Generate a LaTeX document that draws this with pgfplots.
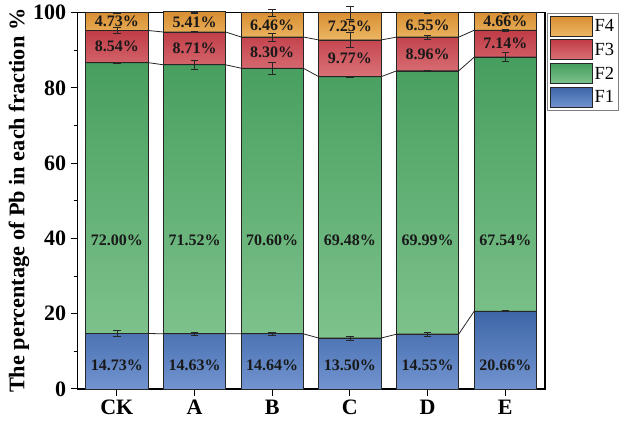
\documentclass[border=0pt]{standalone}
\usepackage{pgfplots}
\pgfplotsset{compat=1.18}
\usepackage{fontspec}
\setmainfont{Liberation Serif}
\definecolor{ftop}{RGB}{216,142,50}\definecolor{fbot}{RGB}{236,182,98}
\definecolor{rtop}{RGB}{192,60,70}\definecolor{rbot}{RGB}{218,114,120}
\definecolor{gtop}{RGB}{70,158,94}\definecolor{gbot}{RGB}{126,194,140}
\definecolor{btop}{RGB}{62,102,168}\definecolor{bbot}{RGB}{114,148,208}
\pgfplotsset{base/.style={width=467pt,height=376pt,scale only axis,
  xmin=-0.503,xmax=5.51,ymin=0,ymax=100,clip=false}}
\begin{document}
\begin{tikzpicture}
\begin{axis}[base, ybar stacked, bar width=0.8,
  xtick={0,...,5}, xticklabels={CK,A,B,C,D,E},
  ytick={0,20,...,100}, minor y tick num=1,
  /pgf/number format/assume math mode=true,
  tick align=outside, xtick pos=bottom, ytick pos=left,
  major tick length=7pt, minor tick length=4pt,
  tick style={black, line width=1pt},
  axis line style={line width=1.3pt},
  ticklabel style={font=\fontsize{22}{22}\selectfont\bfseries},
  xticklabel style={yshift=-1pt},
  yticklabel style={xshift=-1pt},
  ylabel={The percentage of Pb in each fraction \%},
  ylabel style={font=\fontsize{22.3}{22}\selectfont\bfseries, yshift=-3pt},
  reverse legend,
  legend style={at={(1.004,1)}, anchor=north west, draw=gray, line width=0.8pt,
    font=\fontsize{18.5}{18.5}\selectfont, row sep=3pt, inner sep=2.5pt},
  legend cell align=left,
  legend image code/.code={\draw[#1, line width=0.8pt] (0pt,-10pt) rectangle (42pt,10pt);},
  every axis plot/.append style={draw=black!85, line width=0.7pt},
]
\addplot[top color=btop, bottom color=bbot] coordinates {(0,14.73)(1,14.63)(2,14.64)(3,13.50)(4,14.55)(5,20.66)};
\addplot[top color=gtop, bottom color=gbot] coordinates {(0,72.00)(1,71.52)(2,70.60)(3,69.48)(4,69.99)(5,67.54)};
\addplot[top color=rtop, bottom color=rbot] coordinates {(0,8.54)(1,8.71)(2,8.30)(3,9.77)(4,8.96)(5,7.14)};
\addplot[top color=ftop, bottom color=fbot] coordinates {(0,4.73)(1,5.41)(2,6.46)(3,7.25)(4,6.55)(5,4.66)};
\legend{F1,F2,F3,F4}
\end{axis}
\begin{axis}[base, hide axis]
% connecting lines
\addplot[black!85, line width=0.8pt] coordinates {(-0.4,14.73)(0.4,14.73)(0.6,14.63)(1.4,14.63)(1.6,14.64)(2.4,14.64)(2.6,13.50)(3.4,13.50)(3.6,14.55)(4.4,14.55)(4.6,20.66)(5.4,20.66)};
\addplot[black!85, line width=0.8pt] coordinates {(-0.4,86.73)(0.4,86.73)(0.6,86.15)(1.4,86.15)(1.6,85.24)(2.4,85.24)(2.6,82.98)(3.4,82.98)(3.6,84.54)(4.4,84.54)(4.6,88.20)(5.4,88.20)};
\addplot[black!85, line width=0.8pt] coordinates {(-0.4,95.27)(0.4,95.27)(0.6,94.86)(1.4,94.86)(1.6,93.54)(2.4,93.54)(2.6,92.75)(3.4,92.75)(3.6,93.50)(4.4,93.50)(4.6,95.34)(5.4,95.34)};
% error bars
\addplot[draw=none, mark=none, error bars/.cd, y dir=both, y explicit,
  error bar style={black!85, line width=0.6pt},
  error mark options={rotate=90, black!85, mark size=3.8pt, line width=0.6pt}]
  coordinates {
  (0,14.73) +- (0,0.8) (1,14.63) +- (0,0.4) (2,14.64) +- (0,0.4) (3,13.50) +- (0,0.5) (4,14.55) +- (0,0.5) (5,20.66) +- (0,0.1)
  (0,86.73) +- (0,0.1) (1,86.15) +- (0,1.2) (2,85.24) +- (0,1.6) (3,82.98) +- (0,0.1) (4,84.54) +- (0,0.1) (5,88.20) +- (0,1.25)
  (0,95.27) +- (0,0.75) (1,94.86) +- (0,0.15) (2,93.54) +- (0,1.1) (3,92.75) +- (0,2.0) (4,93.50) +- (0,0.5) (5,95.34) +- (0,0.3)
  (0,100) +- (0,0.1) (1,100) +- (0,0.1) (2,100) +- (0,1.0) (3,100) +- (0,1.8) (4,100) +- (0,0.1) (5,100) +- (0,0.1)
  };
% labels
\addplot[only marks, mark=none, nodes near coords={\pgfplotspointmeta\%},
  nodes near coords align=center, point meta=explicit symbolic,
  every node near coord/.append style={font=\fontsize{16}{16}\selectfont\bfseries, text=black!90, inner sep=0pt}]
  table[meta=l] {
x y l
0 6.2 14.73
1 6.2 14.63
2 6.2 14.64
3 6.2 13.50
4 6.2 14.55
5 6.2 20.66
0 39.5 72.00
1 39.5 71.52
2 39.5 70.60
3 39.5 69.48
4 39.5 69.99
5 39.5 67.54
0 91.0 8.54
1 90.5 8.71
2 89.39 8.30
3 87.87 9.77
4 89.02 8.96
5 91.77 7.14
0 97.64 4.73
1 97.57 5.41
2 96.77 6.46
3 96.38 7.25
4 96.78 6.55
5 97.67 4.66
};
\end{axis}
\path ([xshift=-77.7pt,yshift=-36pt]current axis.south west) rectangle ([xshift=85pt,yshift=12.7pt]current axis.north east);
\end{tikzpicture}
\end{document}
